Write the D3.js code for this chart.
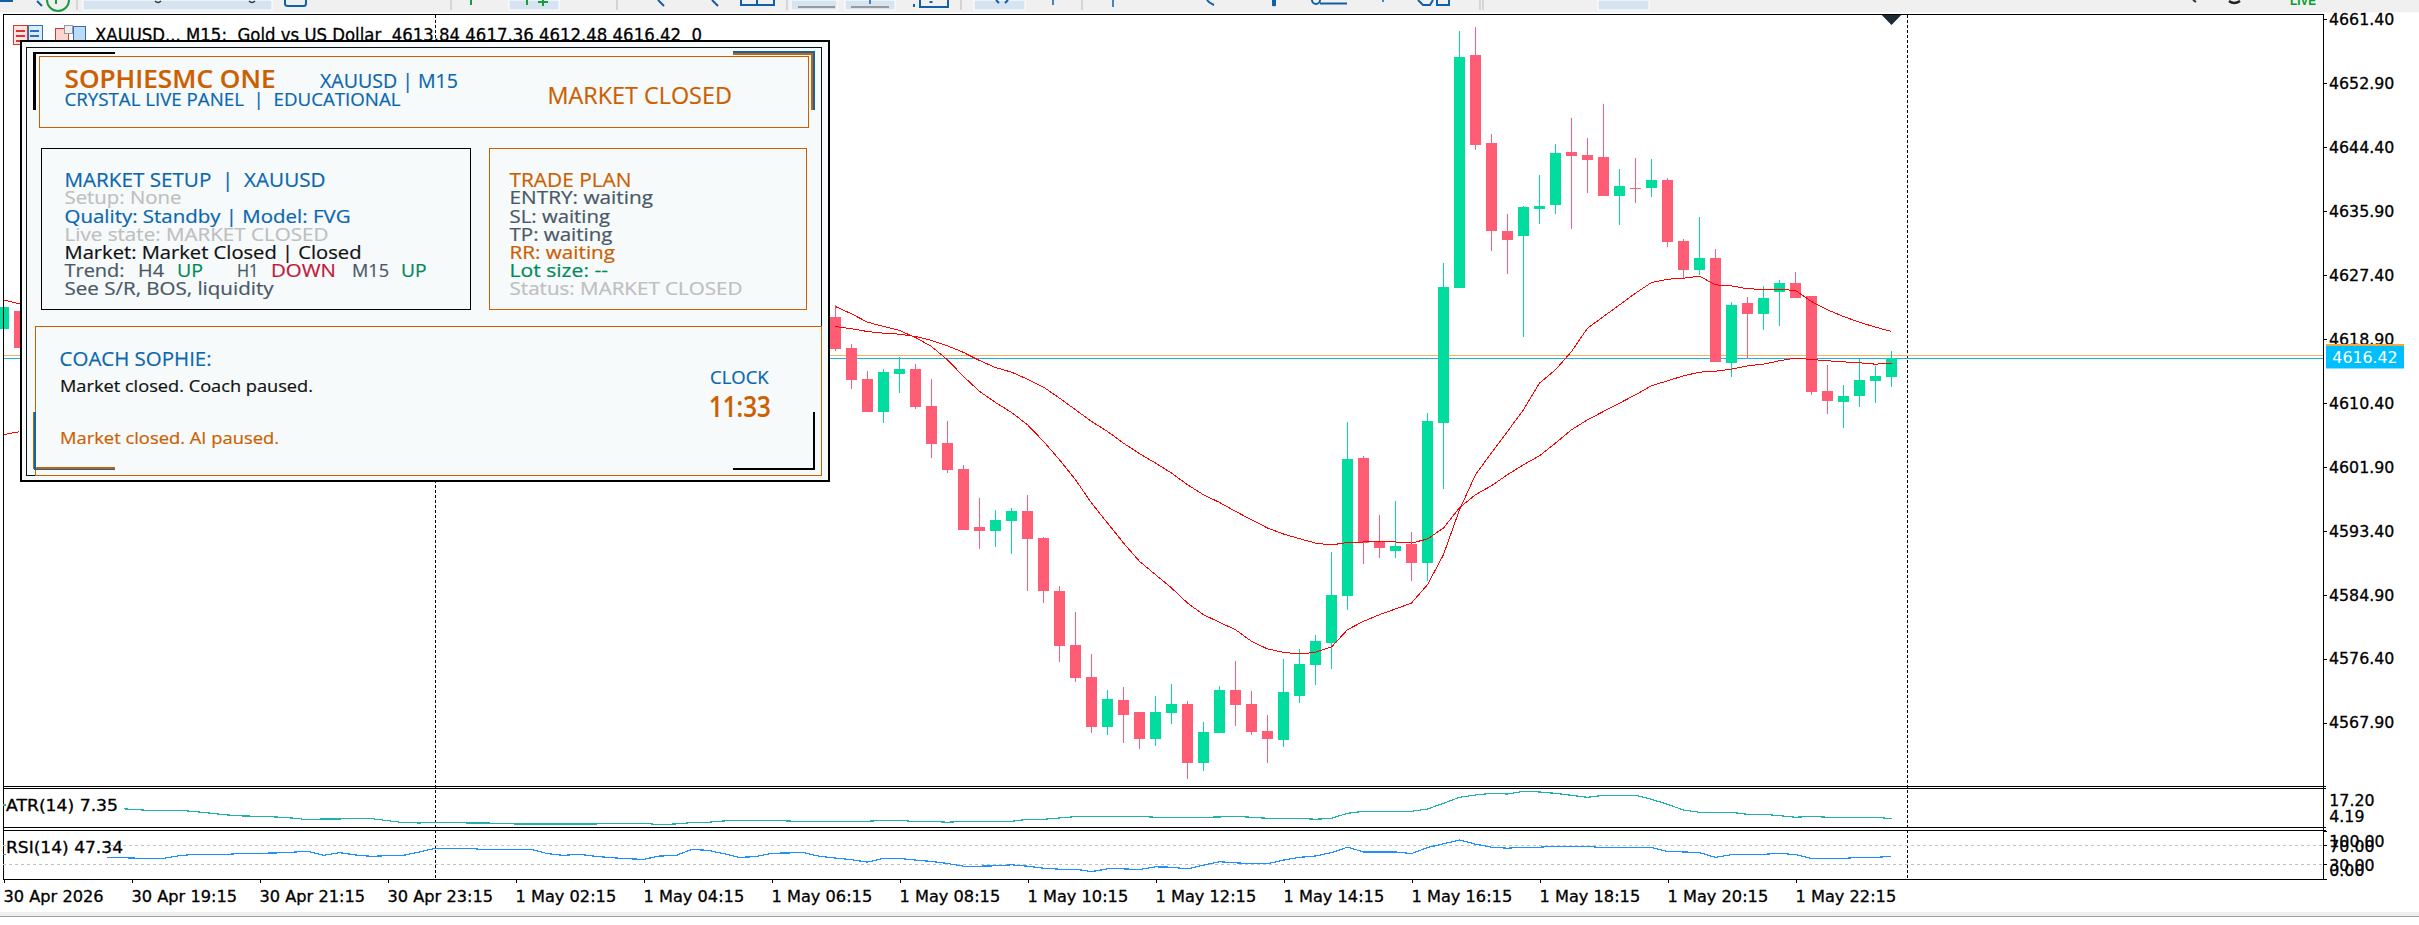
<!DOCTYPE html>
<html><head><meta charset="utf-8">
<script src="https://d3js.org/d3.v7.min.js"></script>
<style>
html,body{margin:0;padding:0;background:#fff;overflow:hidden}
svg{display:block}
</style></head><body><svg id="c" width="2419" height="925"></svg>
<script>
// ---- data -------------------------------------------------------------
const barIndexLeft=[0,1];
const firstRightBar=52;
const opensLeft=[4620.27,4622.66], closesLeft=[4623.19,4617.75];
const opens=[4621.86,4617.75,4613.63,4609.25,4614.29,4614.96,4610.04,4605.13,4601.68,4593.97,4593.44,4594.77,4596.10,4592.51,4585.47,4578.30,4574.05,4567.41,4571.00,4569.40,4565.82,4569.27,4570.46,4562.63,4566.61,4572.32,4570.46,4566.88,4565.68,4571.53,4575.64,4578.57,4584.81,4603.14,4592.11,4590.78,4591.71,4589.20,4607.78,4625.71,4656.66,4644.97,4633.28,4632.62,4636.20,4636.73,4643.77,4643.37,4643.11,4637.93,4638.99,4638.99,4640.05,4631.95,4628.10,4629.70,4615.75,4623.72,4622.26,4625.18,4626.38,4624.65,4612.03,4610.57,4611.37,4613.36,4613.84];
const highs=[4623.46,4618.28,4614.69,4614.96,4616.51,4615.62,4613.63,4608.05,4602.21,4597.82,4596.23,4596.50,4598.22,4592.64,4586.14,4582.68,4577.11,4572.32,4572.72,4569.40,4571.53,4573.12,4570.86,4568.07,4572.85,4576.18,4572.19,4569.00,4576.44,4577.77,4579.63,4590.65,4607.92,4603.40,4595.57,4597.42,4593.31,4609.08,4629.03,4659.84,4660.37,4646.16,4635.54,4636.60,4640.72,4644.84,4648.29,4645.63,4650.15,4641.51,4642.98,4642.84,4640.32,4632.22,4635.14,4630.89,4623.85,4624.52,4625.98,4626.77,4627.84,4624.65,4615.48,4612.83,4616.28,4615.35,4617.36];
const lows=[4617.35,4612.30,4609.25,4607.78,4611.77,4609.64,4603.14,4601.14,4593.57,4591.05,4591.32,4590.39,4585.47,4583.88,4576.04,4573.39,4566.61,4566.35,4565.28,4564.49,4564.89,4567.81,4560.50,4561.57,4566.61,4567.54,4566.35,4562.63,4564.75,4570.60,4572.99,4575.11,4582.95,4589.06,4589.86,4589.86,4586.80,4586.71,4599.02,4625.71,4644.04,4630.62,4627.57,4619.20,4634.21,4635.54,4633.55,4638.33,4637.93,4634.08,4637.00,4637.80,4631.16,4627.04,4627.44,4615.88,4613.89,4616.28,4620.13,4620.66,4624.38,4611.50,4608.98,4607.12,4609.91,4610.44,4612.48];
const closes=[4617.61,4613.50,4609.25,4614.56,4614.96,4609.91,4605.00,4601.54,4593.57,4593.44,4594.90,4596.10,4592.38,4585.47,4578.17,4573.92,4567.41,4571.13,4569.00,4565.82,4569.40,4570.46,4562.63,4566.75,4572.32,4570.33,4566.75,4565.82,4572.06,4575.78,4578.83,4584.94,4603.00,4591.85,4591.18,4591.45,4589.19,4608.05,4625.84,4656.39,4644.70,4633.28,4632.09,4636.47,4636.60,4643.64,4643.24,4642.71,4637.93,4639.26,4638.86,4640.05,4631.82,4628.10,4629.70,4615.88,4623.45,4622.26,4624.38,4626.38,4624.38,4611.90,4610.70,4611.37,4613.49,4614.02,4616.42];
const maFastLeft=[4624.12,4623.59], maSlowLeft=[4606.20,4606.60];
const maFast=[4623.23,4622.26,4621.15,4620.58,4620.05,4619.12,4617.92,4616.15,4613.94,4611.95,4610.48,4609.16,4607.52,4605.31,4602.87,4600.21,4597.12,4594.46,4591.80,4589.37,4587.60,4585.83,4583.83,4582.28,4581.27,4580.29,4578.74,4577.73,4577.28,4577.06,4577.28,4577.99,4580.29,4581.40,4582.28,4583.04,4583.83,4586.27,4590.26,4596.23,4600.88,4603.80,4606.63,4609.51,4613.05,4614.82,4617.26,4620.35,4621.90,4623.45,4625.00,4626.42,4626.86,4626.99,4627.26,4626.11,4625.98,4625.58,4625.53,4625.53,4625.36,4623.90,4622.79,4621.90,4621.15,4620.49,4619.91];
const maSlow=[4620.58,4620.27,4619.91,4619.69,4619.56,4619.25,4618.72,4618.01,4617.13,4616.06,4615.13,4614.51,4613.58,4612.52,4611.06,4609.51,4607.96,4606.63,4605.08,4603.67,4602.43,4601.10,4599.55,4598.22,4597.20,4596.01,4594.90,4593.80,4593.00,4592.38,4591.80,4591.54,4591.89,4591.94,4591.94,4591.94,4591.80,4592.34,4593.80,4596.50,4598.23,4599.42,4600.88,4602.21,4603.40,4605.08,4606.85,4608.18,4609.29,4610.39,4611.50,4612.70,4613.36,4614.02,4614.51,4614.64,4614.91,4615.35,4615.57,4616.02,4616.37,4616.19,4616.02,4615.88,4615.75,4615.57,4615.71];
const atr=[12.27,12.15,12.03,11.91,11.79,11.67,11.43,11.07,10.71,10.35,10.35,10.35,9.87,9.27,8.67,8.31,8.19,7.95,7.59,6.99,7.23,7.23,7.47,7.35,6.63,5.91,5.79,6.03,6.03,5.79,5.79,5.67,5.43,5.43,5.43,5.43,5.43,5.43,5.67,5.67,5.67,5.19,5.43,5.91,6.03,6.51,6.75,6.75,6.75,6.51,6.27,6.39,6.39,6.39,6.39,6.75,6.75,6.27,6.39,6.03,6.39,6.39,6.39,6.39,7.11,7.11,7.59,8.07,8.19,8.19,8.19,8.19,7.83,7.83,7.83,7.83,7.95,8.19,7.83,7.47,7.47,7.47,7.11,7.47,9.27,9.99,9.99,9.99,9.99,10.83,12.87,15.03,15.87,16.47,16.23,17.19,16.95,16.47,15.75,15.03,15.75,15.75,15.75,14.31,12.51,10.47,9.63,9.63,9.63,8.91,8.91,8.43,7.83,8.19,7.83,7.83,7.83,7.83,7.35];
const rsi=[51.75,50.34,49.64,48.24,47.54,46.83,46.13,45.43,44.02,43.32,43.32,48.94,51.75,51.75,51.75,53.85,53.85,54.55,55.95,58.06,49.64,55.25,50.34,47.54,48.94,49.64,56.66,64.38,64.38,64.38,61.57,61.57,61.57,61.57,53.15,49.64,51.75,47.54,44.73,42.62,41.21,48.24,48.94,61.57,60.17,53.15,45.43,46.83,53.85,54.55,55.25,47.54,44.02,40.52,35.60,43.32,43.32,39.81,37.01,32.80,27.18,27.18,27.88,29.98,27.18,22.97,20.87,20.87,15.95,21.57,21.57,20.17,25.78,25.08,21.57,29.29,36.31,34.20,32.10,32.10,39.81,45.43,48.24,55.25,66.48,56.66,56.66,56.66,53.15,65.78,73.50,81.22,72.80,66.48,64.38,66.48,66.48,68.59,68.59,68.59,65.08,65.08,65.08,65.78,57.36,56.66,55.25,45.43,51.05,51.75,51.75,53.85,51.05,43.32,43.32,43.32,45.43,45.43,47.34];
const priceTicks=[4661.40,4652.90,4644.40,4635.90,4627.40,4618.90,4610.40,4601.90,4593.40,4584.90,4576.40,4567.90];
const timeTickBars=[0,8,16,24,32,40,48,56,64,72,80,88,96,104,112];
const timeTickLabels=["30 Apr 2026","30 Apr 19:15","30 Apr 21:15","30 Apr 23:15","1 May 02:15","1 May 04:15","1 May 06:15","1 May 08:15","1 May 10:15","1 May 12:15","1 May 14:15","1 May 16:15","1 May 18:15","1 May 20:15","1 May 22:15"];
const bidPrice=4616.42, askPrice=4616.73;
const periodSeparatorBars=[27,119];
const rsiLevels=[70,30];
const headerText="XAUUSD... M15:  Gold vs US Dollar  4613.84 4617.36 4612.48 4616.42  0";

// ---- layout -----------------------------------------------------------
const L=3, R=2323.5, TOP=14.5, MAIN_B=786, ATR_T=788.5, ATR_B=827.5, RSI_T=830.5, RSI_B=879;
const UP="#02dc9e", DN="#ff5d75", MA="#ff0000", AF='DejaVu Sans', HEAVY=.3;
const svg=d3.select("#c");
const x=d3.scaleLinear([0,118],[3.5,1891.5]);
const y=d3.scaleLinear([4567.9,4661.4],[722.9,19.3]);
const yAtr=d3.scaleLinear([4.19,17.20],[827.4,791.3]);
const yRsi=d3.scaleLinear([0,100],[879.3,831]);
const heavy=(sel,c)=>sel.attr("stroke",c||"#000").attr("stroke-width",HEAVY);

// toolbar
const tb=svg.append("g").attr("id","toolbar");
tb.append("rect").attr("width",2419).attr("height",12.5).attr("fill","#f0f0f0");
[[83,272],[509,559],[791,837],[845,895],[974,1025],[1598,1649]].forEach(b=>
 tb.append("rect").attr("x",b[0]).attr("width",b[1]-b[0]).attr("height",10).attr("fill","#d6e4f2").attr("stroke","#fff").attr("stroke-width",1));
[77,451,617,787,961,1082,1480,1483].forEach(s=>tb.append("line").attr("x1",s).attr("x2",s).attr("y1",0).attr("y2",10).attr("stroke","#bbb"));
const ink=(d,c,w)=>tb.append("path").attr("d",d).attr("fill","none").attr("stroke",c).attr("stroke-width",w||2);
ink("M0 1H13","#1060a8");ink("M47 0A9 9 0 0 0 69 0","#1a9c3c");ink("M37 1L42 6","#1060a8");ink("M56 0V4","#1a9c3c");
ink("M155 1Q158 4 161 1","#333",1.5);ink("M249 1Q252 4 255 1","#333",1.5);
ink("M285 0V4Q285 6 288 6H304Q306 6 306 3V0","#1060a8");
ink("M471 0V5","#1a9c3c");ink("M527 0V5","#1a9c3c");ink("M543 0V6M538 2H548","#1a9c3c");
ink("M658 0L664 6","#1a5a96");ink("M712 0L718 6","#1a5a96");
ink("M741 0V5H774V0M757 0V5","#1060a8");
ink("M798 7H835","#999");ink("M851 7H889","#999");ink("M870 0V4","#1060a8",1.5);
ink("M914 4V7M920 0V7H948V0","#1060a8");ink("M931 1V3","#1060a8",3);
ink("M996 0L999 3M1008 0L1005 3","#1060a8");ink("M1053 0V5","#1060a8",1.5);ink("M1113 0V7","#1060a8",1.5);ink("M1207 0Q1209 3 1214 5","#1060a8");
ink("M1273 0V5A2.5 2.5 0 0 0 1275 5V0","#1060a8");ink("M1312 0A3 3 0 0 0 1320 0M1320 3.5H1347","#1060a8");ink("M1383 0V2","#1060a8",1.5);
ink("M1418 0L1423 5H1430L1433 0M1437 0V5H1449V0","#1060a8");
ink("M2193 0L2196 2","#333");ink("M2229 1Q2234 5 2240 1","#222",2.5);
tb.append("text").attr("x",2290).attr("y",4.5).attr("font-family","Liberation Sans").attr("font-size",13).attr("font-weight",700).attr("fill","#00a02a").attr("textLength",26).attr("lengthAdjust","spacingAndGlyphs").text("LIVE");
svg.append("rect").attr("y",12.5).attr("width",2419).attr("height",1.5).attr("fill","#fff");

// period separators
svg.append("g").selectAll("line").data(periodSeparatorBars).join("line")
 .attr("x1",d=>x(d)).attr("x2",d=>x(d)).attr("y1",TOP).attr("y2",RSI_B)
 .attr("stroke","#000").attr("stroke-width",1).attr("stroke-dasharray","3 2").attr("shape-rendering","crispEdges");

// price lines
[[askPrice,"#f4b55f"],[bidPrice,"#1ab0e8"]].forEach(p=>svg.append("line").attr("x1",L).attr("x2",R).attr("y1",Math.round(y(p[0]))+.5).attr("y2",Math.round(y(p[0]))+.5).attr("stroke",p[1]).attr("stroke-width",1.2));

// candles
const bars=[];
barIndexLeft.forEach((b,k)=>bars.push({i:b,o:opensLeft[k],c:closesLeft[k],h:Math.max(opensLeft[k],closesLeft[k]),l:Math.min(opensLeft[k],closesLeft[k])}));
opens.forEach((o,k)=>bars.push({i:firstRightBar+k,o,c:closes[k],h:highs[k],l:lows[k]}));
const cg=svg.append("g").attr("shape-rendering","crispEdges");
cg.selectAll(".w").data(bars).join("rect").attr("class","w")
 .attr("x",d=>x(d.i)-.5).attr("width",1).attr("y",d=>y(d.h)).attr("height",d=>Math.max(0,y(d.l)-y(d.h)))
 .attr("fill",d=>d.c>=d.o?UP:DN);
cg.selectAll(".b").data(bars).join("rect").attr("class","b")
 .attr("x",d=>x(d.i)-5.5).attr("width",11).attr("y",d=>y(Math.max(d.o,d.c))).attr("height",d=>Math.max(1,Math.abs(y(d.o)-y(d.c))))
 .attr("fill",d=>d.c>=d.o?UP:DN);

// moving averages
const lp=d3.line().x(d=>x(d[0])).y(d=>y(d[1]));
[[maFastLeft,maFast],[maSlowLeft,maSlow]].forEach(s=>{
 [s[0].map((v,k)=>[barIndexLeft[k],v]), s[1].map((v,k)=>[firstRightBar+k,v])].forEach(seg=>
  svg.append("path").attr("d",lp(seg)).attr("fill","none").attr("stroke",MA).attr("stroke-width",1).attr("shape-rendering","crispEdges"));
});

// sell marker
svg.append("path").attr("d",d3.symbol(d3.symbolTriangle,182)()).attr("fill","#1e2a35").attr("transform",`translate(${x(118)},18) rotate(180) scale(1,.6)`);

// frames
const frame=svg.append("g").attr("shape-rendering","crispEdges");
const hl=(yy,a=L,b=R+2.5)=>frame.append("line").attr("x1",a).attr("x2",b).attr("y1",yy).attr("y2",yy).attr("stroke","#000");
hl(14,L,R);hl(MAIN_B);hl(ATR_T);hl(ATR_B);hl(RSI_T);hl(RSI_B);
[L,R].forEach(v=>frame.append("line").attr("x1",v).attr("x2",v).attr("y1",14).attr("y2",RSI_B).attr("stroke","#000"));

// price axis
const ax=svg.append("g").attr("transform",`translate(${R},0)`)
 .call(d3.axisRight(y).tickValues(priceTicks).tickFormat(d3.format(".2f")).tickSize(3).tickPadding(2.5));
ax.select(".domain").remove();
ax.selectAll("text").attr("font-family",AF).attr("font-size",15.8).attr("fill","#000").call(heavy);
ax.selectAll("line").attr("stroke","#000").attr("shape-rendering","crispEdges");

// time axis
const tx=svg.append("g").attr("transform",`translate(0,${RSI_B})`)
 .call(d3.axisBottom(x).tickValues(timeTickBars).tickFormat((d,k)=>timeTickLabels[k]).tickSize(4).tickPadding(9));
tx.select(".domain").remove();
tx.selectAll("text").attr("font-family",AF).attr("font-size",16.2).attr("text-anchor","start").attr("fill","#000").attr("dy",".6em").attr("dx",-.5).call(heavy);
tx.selectAll("line").attr("stroke","#000").attr("shape-rendering","crispEdges");

// ATR pane
svg.append("path").datum(atr).attr("d",d3.line().x((d,i)=>x(i)).y(d=>yAtr(d))).attr("fill","none").attr("stroke","#20b2aa").attr("stroke-width",1.2).attr("shape-rendering","crispEdges");
svg.append("rect").attr("x",6).attr("y",ATR_T+1).attr("width",118).attr("height",30).attr("fill","#fff");
svg.append("text").attr("x",6).attr("y",811).attr("font-family",AF).attr("font-size",15.8).attr("textLength",112).attr("lengthAdjust","spacingAndGlyphs").call(heavy).text("ATR(14) 7.35");
[["17.20",805.5],["4.19",822.2]].forEach(t=>svg.append("text").attr("x",2329.3).attr("y",t[1]).attr("font-family",AF).attr("font-size",15.8).call(heavy).text(t[0]));

// RSI pane
svg.append("g").selectAll("line").data(rsiLevels).join("line").attr("x1",L).attr("x2",R).attr("y1",d=>yRsi(d)).attr("y2",d=>yRsi(d))
 .attr("stroke","#c0c0c0").attr("stroke-dasharray","3 3").attr("shape-rendering","crispEdges");
svg.append("path").datum(rsi).attr("d",d3.line().x((d,i)=>x(i)).y(d=>yRsi(d))).attr("fill","none").attr("stroke","#1e90ff").attr("stroke-width",1.2).attr("shape-rendering","crispEdges");
svg.append("rect").attr("x",6).attr("y",RSI_T+1).attr("width",101).attr("height",30).attr("fill","#fff");
svg.append("text").attr("x",6).attr("y",853).attr("font-family",AF).attr("font-size",15.8).attr("textLength",117).attr("lengthAdjust","spacingAndGlyphs").call(heavy).text("RSI(14) 47.34");
[["100.00",847.2],["70.00",852.2],["30.00",871],["0.00",875.5]].forEach(t=>svg.append("text").attr("x",2329.3).attr("y",t[1]).attr("font-family",AF).attr("font-size",15.8).call(heavy).text(t[0]));
[70,30,100,0].forEach(v=>svg.append("line").attr("x1",R).attr("x2",R+3).attr("y1",yRsi(v)).attr("y2",yRsi(v)).attr("stroke","#000").attr("shape-rendering","crispEdges"));

// price tag
svg.append("rect").attr("x",2326).attr("y",344).attr("width",78).attr("height",2.5).attr("fill","#f5a83c");
svg.append("rect").attr("x",2326).attr("y",346).attr("width",78).attr("height",22.5).attr("fill","#00bfff");
svg.append("text").attr("x",2365).attr("y",363).attr("text-anchor","middle").attr("font-family",AF).attr("font-size",15.8).attr("fill","#fff").text(d3.format(".2f")(bidPrice));

// header
const ic=svg.append("g").attr("shape-rendering","crispEdges");
ic.append("rect").attr("x",13.5).attr("y",25).attr("width",14).attr("height",19).attr("fill","#fbe4e2").attr("stroke","#d33");
ic.append("rect").attr("x",28).attr("y",25).attr("width",14).attr("height",19).attr("fill","#dbeaf8").attr("stroke","#2a70c0");
[30,35,40].forEach(v=>{ic.append("rect").attr("x",16).attr("y",v).attr("width",9).attr("height",2).attr("fill","#d33");ic.append("rect").attr("x",30).attr("y",v).attr("width",9).attr("height",2).attr("fill","#2a70c0");});
ic.append("rect").attr("x",55).attr("y",28).attr("width",13).attr("height",16).attr("fill","#fbd5cf").attr("stroke","#d33");
ic.append("rect").attr("x",64).attr("y",25).attr("width",8).attr("height",8).attr("fill","#eee").attr("stroke","#999");
ic.append("rect").attr("x",73).attr("y",26).attr("width",12).attr("height",18).attr("fill","#bcdcf6").attr("stroke","#2a70c0");
svg.append("text").attr("x",95).attr("y",41).style("white-space","pre").attr("font-family",AF).attr("font-size",17.5).attr("textLength",607).attr("lengthAdjust","spacingAndGlyphs").call(heavy).text(headerText);

// ---- panel -------------------------------------------------------------
const PF="'Open Sans'", BG="#f6fafb", OR="#cc5f00", BL="#0a67ad", GR="#bfbfbf", SL="#4a5866", BK="#111", GN="#008a5a", RD="#c2183c";
const p=svg.append("g").attr("id","panel");
const box=(a,b,c,d,st,sw,fi)=>p.append("rect").attr("x",a).attr("y",b).attr("width",c-a).attr("height",d-b).attr("fill",fi||"none").attr("stroke",st).attr("stroke-width",sw||1).attr("shape-rendering","crispEdges");
box(21,41,829,481,"#000",2.5,BG);
box(26.5,47.5,821.5,475.5,"#111",1,BG);
box(39.5,56.5,808.5,127.5,OR,1);
box(41.5,148.5,470.5,309.5,"#000",1);
box(489.5,148.5,806.5,309.5,OR,1);
box(35.5,326.5,821.5,475.5,OR,1,BG);
const br=(d,c,w)=>p.append("path").attr("d",d).attr("fill","none").attr("stroke",c).attr("stroke-width",w).attr("shape-rendering","crispEdges");
br("M115 53H34.5V110","#000",2.5);
br("M733 52H814V110",BL,1.2);br("M733 54H812V110",OR,1.5);
br("M34 412V468H115",OR,1.2);br("M35 412V469.5H115",BL,1.2);
br("M814 412V469H733","#000",2.5);
// [text, x, baseline, width, size, colour, weight]
const pt=[
 ["SOPHIESMC ONE",64.5,88.3,211,24.8,OR,600],
 ["XAUUSD | M15",320,88.3,138,20.5,BL,500],
 ["CRYSTAL LIVE PANEL  |  EDUCATIONAL",64.5,106,336,17.6,BL,500],
 ["MARKET CLOSED",547.4,104,184.5,23,OR,500],
 ["MARKET SETUP  |  XAUUSD",64.5,187.3,261,20.5,BL,500],
 ["Setup: None",64.5,204,117,17.5,GR,500],
 ["Quality: Standby | Model: FVG",64.5,222.7,286,17.5,BL,500],
 ["Live state: MARKET CLOSED",64.5,240.7,264,17.5,GR,500],
 ["Market: Market Closed | Closed",64.5,259,297,17.5,BK,500],
 ["Trend:",64.5,276.7,60,17.5,SL,500],["H4",138,276.7,26,17.5,SL,500],["UP",177,276.7,26,17.5,GN,500],
 ["H1",237,276.7,21.5,17.5,SL,500],["DOWN",271,276.7,65,17.5,RD,500],["M15",352,276.7,37,17.5,SL,500],["UP",401,276.7,25.6,17.5,GN,500],
 ["See S/R, BOS, liquidity",64.5,295,209,17.5,SL,500],
 ["TRADE PLAN",509.5,187.3,122,20.5,OR,500],
 ["ENTRY: waiting",509.5,204,143.5,17.5,SL,500],
 ["SL: waiting",509.5,222.7,100.5,17.5,SL,500],
 ["TP: waiting",509.5,240.7,103,17.5,SL,500],
 ["RR: waiting",509.5,259,105.5,17.5,OR,500],
 ["Lot size: --",509.5,276.7,98.5,17.5,GN,500],
 ["Status: MARKET CLOSED",509.5,295,233,17.5,GR,500],
 ["COACH SOPHIE:",59.6,366,152,20.5,BL,500],
 ["Market closed. Coach paused.",60,391.7,253,16,BK,400],
 ["Market closed. AI paused.",60,443.7,219,16,OR,400],
 ["CLOCK",710,384,58.6,17.5,BL,500],
 ["11:33",709,417.3,61.7,28,OR,600]
];
p.selectAll(".t").data(pt).join("text").attr("class","t")
 .attr("x",d=>d[1]).attr("y",d=>d[2]).attr("textLength",d=>d[3]).attr("lengthAdjust","spacingAndGlyphs")
 .attr("font-family",PF).attr("font-size",d=>d[4]).attr("font-weight",d=>d[6]).attr("fill",d=>d[5]).attr("stroke",d=>d[5]).attr("stroke-width",.2).style("white-space","pre").text(d=>d[0]);

// bottom status strip
svg.append("rect").attr("y",912).attr("width",2419).attr("height",4).attr("fill","#f0f0f0");
svg.append("rect").attr("y",916).attr("width",2419).attr("height",1).attr("fill","#a0a0a0");
</script></body></html>
